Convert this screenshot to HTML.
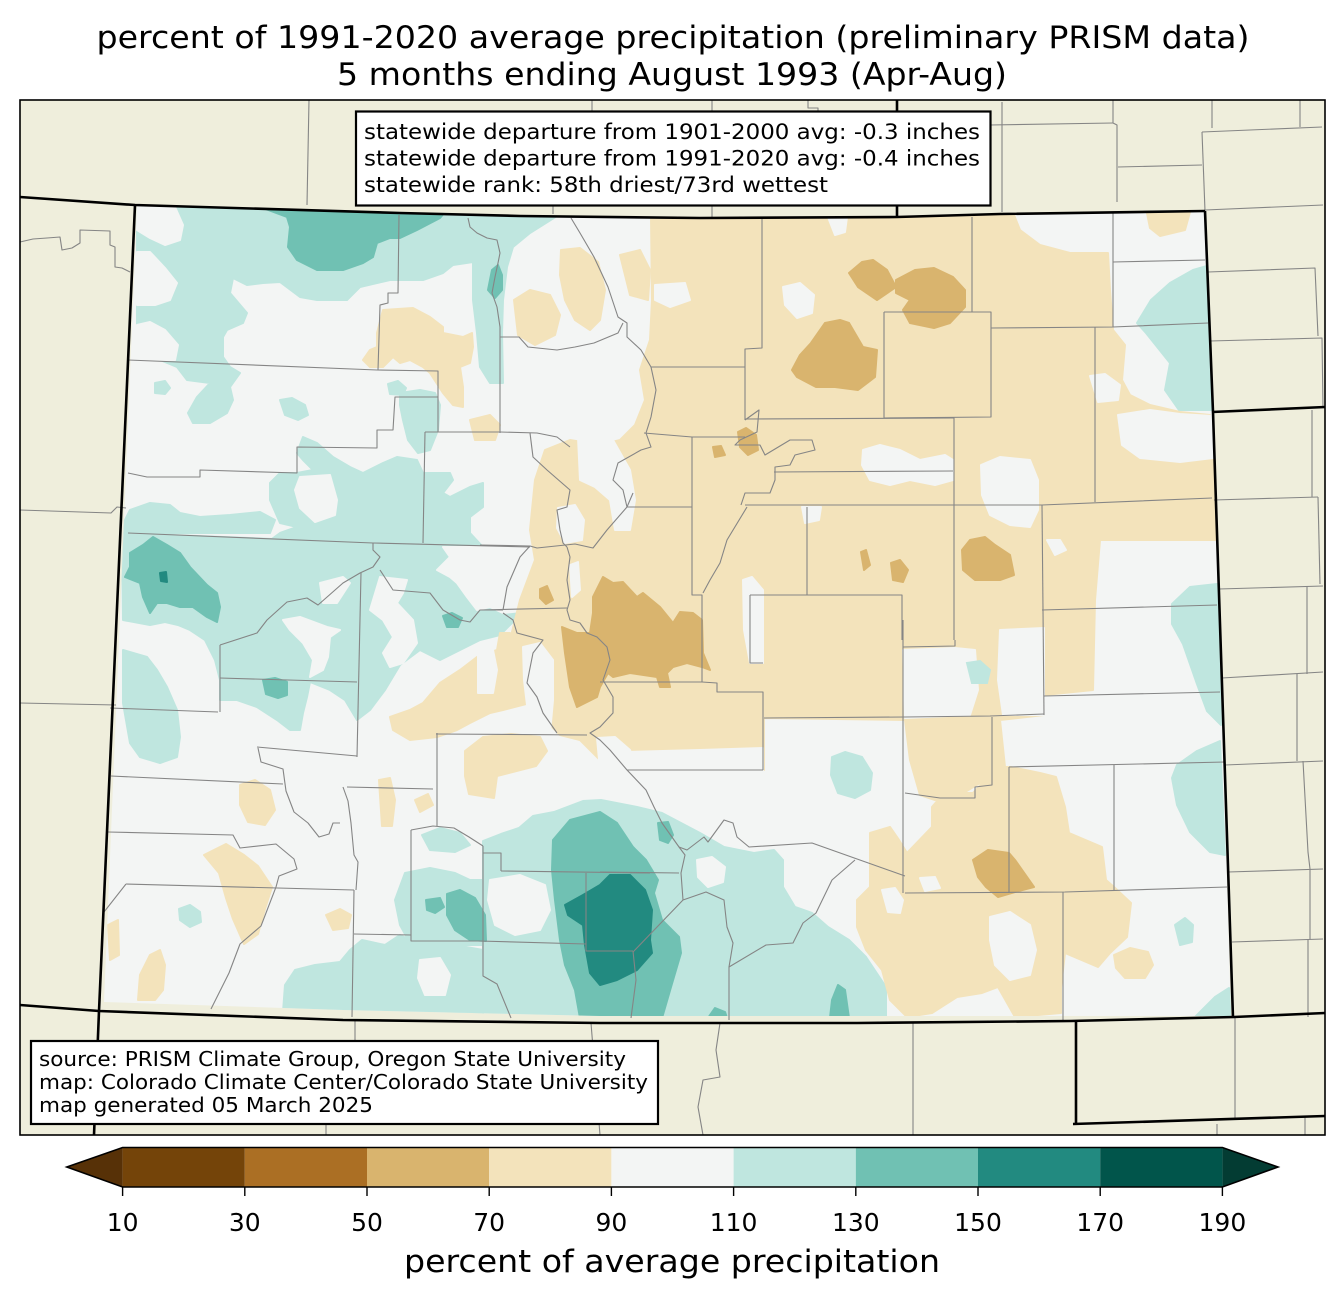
<!DOCTYPE html>
<html><head><meta charset="utf-8"><style>
html,body{margin:0;padding:0;background:#fff;}
svg{display:block;}
text{font-family:"DejaVu Sans","Liberation Sans",sans-serif;fill:#000;}
</style></head><body>
<svg width="1344" height="1299" viewBox="0 0 1344 1299" xmlns="http://www.w3.org/2000/svg">
<rect width="1344" height="1299" fill="#fff"/>
<rect x="20" y="100" width="1305" height="1035" fill="#efeedc"/>
<defs><clipPath id="co"><polygon points="137,206 400,213 520,216 700,218 897,217 1000,214 1205,211 1213,411 1231,1016 600,1016 343,1010 104,1002"/></clipPath></defs>
<g clip-path="url(#co)">
<rect x="90" y="200" width="1150" height="830" fill="#f3f5f4"/>
<!-- T1 -->
<g fill="#bfe6df" stroke="#bfe6df" stroke-width="2" stroke-linejoin="round">
<polygon points="137,207 557,216 530,233 513,247 507,267 503,300 502,333 503,383 490,383 480,367 477,333 473,300 473,262 453,265 443,273 423,280 390,280 360,287 347,300 317,300 300,297 280,282 263,283 247,285 233,278 230,293 247,313 243,323 227,330 223,337 223,357 230,367 240,373 230,387 233,400 227,413 210,423 193,423 188,413 197,397 210,383 187,380 177,367 160,360 137,360"/>
<polygon points="155,383 165,381 170,388 165,394 155,393"/>
<polygon points="280,400 292,398 305,405 308,415 298,420 285,415"/>
<polygon points="388,384 398,381 406,388 403,395 390,394"/>
<polygon points="400,393 420,390 435,393 440,405 438,430 430,450 418,453 408,440 403,420 400,405"/>
<polygon points="303,437 317,443 333,457 350,467 363,473 383,463 397,457 417,460 423,473 450,473 453,480 443,493 450,497 470,487 483,483 483,507 470,517 470,533 483,547 463,553 463,560 263,560 257,550 280,533 297,527 280,523 270,500 270,483 280,473 297,473 313,470 303,460 297,453"/>
<polygon points="130,510 150,503 170,505 180,513 200,517 230,515 260,512 275,520 270,533 122,533 125,520"/>
<polygon points="122,533 373,543 530,547 530,600 515,620 500,635 480,640 460,650 440,660 420,650 400,665 385,690 370,710 357,720 345,700 330,690 310,682 220,680 215,660 205,640 190,630 178,625 165,622 150,625 123,620"/>
<polygon points="123,650 147,657 157,670 167,687 177,710 180,737 177,757 160,763 140,757 130,743 123,703"/>
<polygon points="220,680 310,682 307,697 303,713 300,730 290,730 277,720 257,707 237,700 220,700"/>
<polygon points="179,909 190,905 200,912 201,922 190,927 180,920"/>
<polygon points="283,1012 285,985 295,970 315,965 340,962 350,950 362,940 385,945 400,935 420,945 440,940 455,945 483,950 483,1014"/>
<polygon points="405,873 430,868 455,873 470,880 483,880 483,945 411,945 400,925 395,900"/>
<polygon points="422,835 440,828 460,833 470,845 455,852 430,850"/>
<polygon points="483,841 501,834 519,828 533,816 554,812 583,801 601,800 637,807 662,813 700,833 724,847 754,853 774,850 783,860 783,887 795,907 812,913 828,927 849,940 866,957 886,987 886,1018 483,1018"/>
<polygon points="1137,323 1151,300 1170,283 1193,270 1207,266 1212,410 1179,410 1165,390 1170,363 1146,333"/>
<polygon points="1172,604 1190,587 1217,584 1221,725 1207,711 1197,684 1183,644 1172,624"/>
<polygon points="1177,765 1197,751 1220,741 1225,855 1210,852 1190,832 1177,805 1172,778"/>
<polygon points="1175,925 1185,918 1193,925 1192,942 1180,945"/>
<polygon points="1195,1017 1215,997 1229,988 1232,1017"/>
<polygon points="832,757 845,752 862,757 872,773 870,790 855,798 838,793 831,775"/>
</g>
<!-- white holes -->
<g fill="#f3f5f4" stroke="#f3f5f4" stroke-width="2" stroke-linejoin="round">
<polygon points="137,207 175,207 183,225 180,240 165,245 150,238 137,230"/>
<polygon points="137,252 150,252 165,268 177,283 170,300 155,305 137,305"/>
<polygon points="137,325 150,322 165,330 178,345 175,360 137,360"/>
<polygon points="300,477 330,475 337,500 335,515 315,522 300,508 295,490"/>
<polygon points="283,620 300,617 327,627 340,630 330,637 328,657 323,670 310,677 313,660 303,643 290,630"/>
<polygon points="320,583 343,577 350,583 337,603 323,603"/>
<polygon points="380,577 407,580 403,593 397,603 413,620 417,643 403,663 390,667 383,653 393,637 383,620 370,610"/>
<polygon points="443,547 530,547 530,610 503,613 490,607 477,610 467,597 457,583 450,577 437,570 450,557"/>
<polygon points="697,860 712,857 725,867 723,882 708,887 698,877"/>
<polygon points="490,880 520,875 545,885 550,910 540,930 515,935 495,925 488,900"/>
<polygon points="420,960 440,958 450,975 445,995 425,995 418,978"/>
</g>
<!-- B1 -->
<g fill="#f3e3bb" stroke="#f3e3bb" stroke-width="2" stroke-linejoin="round">
<polygon points="383,310 413,308 430,317 443,327 443,333 463,337 472,333 473,347 470,363 460,367 463,387 463,407 453,405 443,393 430,373 423,367 410,360 400,363 393,357 383,367 370,367 363,360 370,350 377,347 377,333"/>
<polygon points="561,250 580,248 598,262 605,290 600,320 590,330 575,320 565,300 560,275"/>
<polygon points="514,300 530,290 550,295 560,315 555,335 535,345 518,335"/>
<polygon points="470,420 490,415 500,425 495,440 475,440"/>
<polygon points="620,255 640,250 650,270 648,300 630,295"/>
<polygon points="651,217 1014,215 1020,230 1040,245 1070,253 1108,253 1110,290 1113,330 1125,345 1122,380 1130,395 1150,405 1180,412 1210,415 1213,450 1217,540 1100,540 1095,600 1093,690 1044,695 1044,715 1000,720 1005,767 985,780 960,795 935,800 920,795 910,760 905,720 764,718 764,770 720,765 660,770 625,770 600,760 580,740 560,735 545,720 548,700 540,680 520,660 510,640 520,600 535,560 530,530 535,480 545,450 570,440 600,445 620,440 635,425 645,400 640,370 650,340 652,300"/>
<polygon points="1147,213 1190,212 1185,230 1160,236 1150,228"/>
<polygon points="390,717 410,710 423,703 440,683 460,670 477,657 497,650 500,633 510,633 523,647 530,660 530,703 503,710 490,713 470,723 457,730 437,737 410,740 393,730"/>
<polygon points="465,751 483,737 511,734 540,737 547,751 536,766 497,776 494,798 469,794 465,776"/>
<polygon points="204,855 226,844 244,855 258,866 272,887 265,909 258,934 244,944 233,919 226,898 219,873"/>
<polygon points="140,975 150,955 160,950 165,965 163,990 155,1000 138,1000"/>
<polygon points="326,915 340,909 351,915 348,928 333,930"/>
<polygon points="108,925 118,920 119,955 110,960"/>
<polygon points="240,785 255,780 270,790 275,810 265,825 248,822 240,805"/>
<polygon points="379,780 390,778 395,800 392,826 382,826"/>
<polygon points="415,800 428,794 433,805 420,812"/>
<polygon points="857,900 870,887 870,833 890,827 899,840 907,853 932,827 932,807 944,793 973,793 998,767 1011,767 1040,773 1056,777 1065,807 1069,833 1102,847 1106,880 1114,887 1131,903 1127,937 1110,953 1098,967 1065,953 1061,987 1061,1013 1015,1017 998,987 982,993 957,997 932,1013 907,1017 890,1000 882,970 866,950 857,927"/>
<polygon points="1114,955 1130,948 1148,952 1153,965 1145,978 1125,978 1116,968"/>
</g>
<!-- white holes in B1 -->
<g fill="#f3f5f4" stroke="#f3f5f4" stroke-width="2" stroke-linejoin="round">
<polygon points="783,287 800,283 814,295 812,313 797,318 785,305"/>
<polygon points="828,217 847,217 845,232 835,235"/>
<polygon points="655,285 685,283 690,300 670,307 655,300"/>
<polygon points="863,450 880,445 900,450 920,460 945,455 953,460 953,480 935,485 910,480 890,485 870,480 862,465"/>
<polygon points="981,465 1000,457 1030,460 1038,480 1038,510 1030,527 1010,525 990,515 982,495"/>
<polygon points="1090,376 1105,374 1120,385 1118,400 1098,402"/>
<polygon points="1118,415 1150,410 1180,414 1212,416 1213,458 1180,462 1140,458 1122,445"/>
<polygon points="1047,540 1060,540 1066,550 1055,555"/>
<polygon points="903,650 955,648 975,650 978,690 970,715 905,718"/>
<polygon points="1000,630 1044,628 1044,715 1003,715 998,680"/>
<polygon points="743,580 752,577 763,590 763,663 750,663 744,630"/>
<polygon points="802,507 821,507 819,520 805,523"/>
<polygon points="578,437 613,440 630,470 635,500 630,530 615,530 610,500 595,487 580,480"/>
<polygon points="558,508 575,505 584,520 582,540 565,543 557,528"/>
<polygon points="570,565 578,562 580,590 572,597"/>
<polygon points="523,647 540,643 553,660 553,700 550,733 535,733 527,705 524,680"/>
<polygon points="478,647 493,650 497,670 493,693 478,693"/>
<polygon points="597,738 615,737 630,750 637,770 600,770"/>
<polygon points="627,752 700,750 763,748 763,770 627,770"/>
<polygon points="600,742 620,745 625,768 600,768"/>
<polygon points="882,890 895,888 903,900 900,913 888,912"/>
<polygon points="990,917 1010,912 1030,925 1036,950 1030,975 1010,980 995,965 990,940"/>
<polygon points="920,878 935,877 940,888 925,891"/>
</g>
<g fill="#bfe6df" stroke="#bfe6df" stroke-width="2"><polygon points="967,663 980,661 990,670 987,683 972,683"/></g>
<!-- B2 -->
<g fill="#d9b46e" stroke="#d9b46e" stroke-width="2" stroke-linejoin="round">
<polygon points="849,273 862,262 873,260 887,270 896,287 877,300 858,287"/>
<polygon points="896,280 915,270 934,268 953,277 965,290 965,307 950,323 934,328 910,323 903,310 910,300 896,293"/>
<polygon points="825,323 840,320 849,323 863,347 877,350 875,377 858,390 835,387 816,387 797,377 792,370 800,355 811,343"/>
<polygon points="738,432 746,428 756,435 758,450 748,455 740,447"/>
<polygon points="713,447 721,446 725,455 715,457"/>
<polygon points="962,550 970,540 985,537 995,545 1010,555 1014,575 1000,580 975,580 963,570"/>
<polygon points="861,552 866,550 870,565 864,570"/>
<polygon points="891,563 900,560 908,570 903,582 893,580"/>
<polygon points="562,627 577,633 590,633 593,613 593,597 603,577 613,583 623,582 637,597 643,593 660,607 673,623 680,612 693,613 702,620 703,653 710,670 702,667 687,663 673,667 667,673 670,687 660,687 657,677 630,673 613,677 608,673 600,687 597,697 577,707 570,687 565,653"/>
<polygon points="540,589 547,586 553,600 546,604 540,598"/>
<polygon points="973,860 988,850 1009,853 1015,860 1034,887 1015,892 998,897 986,887 978,877"/>
</g>
<!-- T2 -->
<g fill="#70c1b3" stroke="#70c1b3" stroke-width="2" stroke-linejoin="round">
<polygon points="263,208 445,212 440,218 417,230 400,238 390,238 377,243 373,257 363,263 343,270 317,270 297,260 288,247 290,227 287,217"/>
<polygon points="488,290 492,270 498,265 502,275 502,290 495,298"/>
<polygon points="130,553 143,545 153,537 167,545 180,553 190,567 207,585 217,593 220,607 217,622 207,617 193,607 180,607 167,603 157,603 150,613 143,597 140,583 125,577 130,567"/>
<polygon points="263,680 275,678 287,682 287,695 278,698 266,694"/>
<polygon points="443,616 452,613 462,618 458,627 447,627"/>
<polygon points="426,900 440,898 444,907 435,913 427,910"/>
<polygon points="447,894 460,890 475,898 485,915 486,941 470,940 455,930 447,915"/>
<polygon points="553,840 570,820 600,812 617,823 633,847 646,860 658,880 654,893 662,920 679,937 681,953 671,987 662,1018 580,1018 575,990 565,965 560,940 555,900 552,870"/>
<polygon points="658,823 668,822 673,835 668,843 660,840"/>
<polygon points="832,1000 838,985 845,990 849,1018 830,1018"/>
<polygon points="708,1018 715,1008 725,1012 727,1018"/>
</g>
<!-- T3 -->
<g fill="#228a80" stroke="#228a80" stroke-width="2" stroke-linejoin="round">
<polygon points="565,905 583,895 600,885 610,875 630,875 645,890 652,910 650,940 652,953 637,970 617,980 600,985 590,973 585,945 583,925 568,915"/>
<polygon points="160,573 166,572 167,582 161,581"/>
</g>
</g>
<!-- county lines -->
<g fill="none" stroke="#858585" stroke-width="1.1" stroke-linejoin="round">
<polyline points="399,215 398,293 388,293 388,303 380,305 378,370"/>
<polyline points="128,360 377,370 438,371 438,432"/>
<polyline points="128,473 147,477 200,477 200,470 297,473 297,447 377,448 377,430 393,430 395,397 438,397"/>
<polyline points="468,218 470,227 477,233 487,238 497,240 500,253 498,263 495,277 492,293 497,307 500,327 500,347 500,433"/>
<polyline points="425,432 500,432 537,433 557,437 570,447"/>
<polyline points="500,337 519,337 528,347 557,350 575,347 594,343 618,333 623,323"/>
<polyline points="425,432 423,543"/>
<polyline points="128,533 373,543 530,547"/>
<polyline points="530,433 533,457 547,470 570,490 567,507 557,510 560,530 563,543 567,547"/>
<polyline points="571,218 580,233 594,257 608,287 618,317 627,323 627,337 641,350 651,367 656,390 651,417 646,433 651,447 641,450 618,463 613,480 623,490 627,507 692,507"/>
<polyline points="480,545 530,546 537,548 575,544 593,548 607,530 627,507 633,493"/>
<polyline points="651,367 745,367"/>
<polyline points="762,218 762,348 745,349 745,420"/>
<polyline points="972,217 972,312"/>
<polyline points="884,312 991,312 991,417 884,418 884,312"/>
<polyline points="991,328 1113,327 1208,323"/>
<polyline points="1113,213 1113,327"/>
<polyline points="1113,262 1205,260"/>
<polyline points="1095,327 1095,502"/>
<polyline points="745,419 953,418 954,418 954,640"/>
<polyline points="745,505 1042,505 1212,498"/>
<polyline points="1042,505 1044,715"/>
<polyline points="1042,610 1217,605"/>
<polyline points="774,472 953,471"/>
<polyline points="644,433 692,437 745,437"/>
<polyline points="692,437 692,595 702,595 702,682"/>
<polyline points="750,595 902,595 902,640"/>
<polyline points="807,507 807,595"/>
<polyline points="745,420 759,410 757,432 740,440 735,445 760,445 765,455 790,440 812,440 815,450 795,455 790,465 775,467 775,480 770,493 745,493 741,505"/>
<polyline points="747,507 727,540 720,563 710,580 703,593"/>
<polyline points="220,645 257,633 267,620 287,602 307,598 318,605 343,583 360,573 373,567 380,557 373,550 373,543"/>
<polyline points="220,645 220,712"/>
<polyline points="220,678 357,682"/>
<polyline points="361,573 357,757"/>
<polyline points="110,708 218,712"/>
<polyline points="380,570 393,590 430,593 443,610 460,620 470,622 480,610 503,610"/>
<polyline points="503,610 507,587 520,557 530,546"/>
<polyline points="503,613 513,620 517,633 543,640 533,653 527,683 537,697 543,713 557,733"/>
<polyline points="567,547 570,557 567,580 570,600 567,610 570,620 580,623 587,633 597,637 607,647 610,660 603,680 613,697 613,713 600,727 590,733 600,740 610,750 627,770 646,790 654,807 662,823 679,847 687,850 704,837 708,842 724,820 733,823 737,837 749,847 812,843 905,876"/>
<polyline points="480,610 567,608"/>
<polyline points="600,682 702,682 717,683 717,692 763,692 763,770"/>
<polyline points="627,770 763,770"/>
<polyline points="750,595 750,663 763,663"/>
<polyline points="764,718 905,717 990,716 1044,714"/>
<polyline points="903,620 903,893"/>
<polyline points="903,647 955,646 955,640"/>
<polyline points="1044,696 1220,692"/>
<polyline points="992,717 992,785 975,787 975,798 940,798 905,793"/>
<polyline points="1009,767 1009,893"/>
<polyline points="1009,767 1225,762"/>
<polyline points="1114,765 1114,890"/>
<polyline points="905,893 1065,892 1227,887"/>
<polyline points="1063,892 1063,1020"/>
<polyline points="586,873 586,951 633,951"/>
<polyline points="633,952 683,900 706,892 724,900 727,927 733,943 729,967 729,1020"/>
<polyline points="729,967 766,945 793,943 803,923 816,913 832,880 855,860"/>
<polyline points="600,872 679,873"/>
<polyline points="679,847 685,855 681,873 683,900"/>
<polyline points="633,951 636,980 631,1018"/>
<polyline points="501,871 650,873"/>
<polyline points="483,853 501,853 501,871"/>
<polyline points="483,846 483,976 497,984 511,1018"/>
<polyline points="411,830 411,941 479,941 586,944"/>
<polyline points="354,934 411,935"/>
<polyline points="354,890 352,1017"/>
<polyline points="126,884 354,890"/>
<polyline points="126,884 104,912"/>
<polyline points="276,887 261,926 240,944 229,973 211,1009"/>
<polyline points="108,832 233,835 240,848 276,844 294,859 297,869 279,876 276,887"/>
<polyline points="111,776 283,784"/>
<polyline points="258,748 261,762 283,769 286,791 294,812 308,823 319,837 329,834 333,823 340,823"/>
<polyline points="257,747 357,756"/>
<polyline points="343,787 348,801 351,823 354,855 358,862 356,890"/>
<polyline points="347,787 433,789"/>
<polyline points="411,830 433,826 454,828 469,837 483,846"/>
<polyline points="437,733 437,826"/>
<polyline points="436,734 587,735"/>
<!-- outside states -->
<polyline points="309,100 307,205"/>
<polyline points="20,242 33,239 47,238 60,237 62,250 72,248 80,243 80,230 110,231 110,245 115,247 115,267 122,268 130,272"/>
<polyline points="20,510 111,513 117,507 126,508"/>
<polyline points="20,703 116,705"/>
<polyline points="553,206 553,214"/>
<polyline points="712,206 712,217"/>
<polyline points="592,100 592,111"/>
<polyline points="712,100 712,111"/>
<polyline points="808,100 808,108 818,108 818,111"/>
<polyline points="1002,102 1002,212"/>
<polyline points="990,125 1113,123"/>
<polyline points="1113,100 1113,123 1117,125 1117,202"/>
<polyline points="1118,167 1202,165"/>
<polyline points="1202,132 1322,127"/>
<polyline points="1212,100 1212,128"/>
<polyline points="1300,100 1300,127"/>
<polyline points="1202,132 1205,211"/>
<polyline points="1205,210 1323,205"/>
<polyline points="1208,272 1315,268 1318,336"/>
<polyline points="1210,341 1322,338 1323,408"/>
<polyline points="1214,500 1318,497"/>
<polyline points="1312,410 1312,497"/>
<polyline points="1318,497 1320,584"/>
<polyline points="1219,589 1323,586"/>
<polyline points="1307,586 1307,674"/>
<polyline points="1222,678 1323,672"/>
<polyline points="1297,674 1297,761"/>
<polyline points="1225,765 1323,761"/>
<polyline points="1303,761 1308,852 1310,869"/>
<polyline points="1228,872 1323,869"/>
<polyline points="1310,869 1310,939"/>
<polyline points="1232,942 1323,939"/>
<polyline points="1308,939 1308,1017"/>
<polyline points="355,1021 355,1041"/>
<polyline points="326,1124 326,1135"/>
<polyline points="591,1023 600,1135"/>
<polyline points="720,1023 716,1050 720,1077 703,1080 698,1107 703,1135"/>
<polyline points="913,1023 913,1135"/>
<polyline points="1235,1018 1235,1120"/>
<polyline points="1217,1124 1217,1135"/>
<polyline points="1305,1117 1305,1135"/>
</g>
<!-- state borders -->
<g fill="none" stroke="#000" stroke-width="2.6" stroke-linejoin="round">
<polyline points="20,197 135,205 400,213 520,216 700,218 897,217 1000,214 1205,211"/>
<polyline points="897,100 897,217"/>
<polyline points="1205,211 1213,412 1233,1018"/>
<polyline points="1212,412 1325,407"/>
<polyline points="20,1005 99,1011 343,1020 600,1023 857,1023 1071,1021 1234,1017 1325,1013"/>
<polyline points="135,205 99,1011 94,1135"/>
<polyline points="1076,1021 1076,1124"/>
<polyline points="1073,1124 1325,1116"/>
</g>
<rect x="20" y="100" width="1305" height="1035" fill="none" stroke="#000" stroke-width="1.6"/>
<!-- text boxes -->
<rect x="356" y="111.5" width="634.5" height="94" fill="#fff" stroke="#000" stroke-width="2.2"/>
<text x="364" y="139" font-size="21.5" textLength="616" lengthAdjust="spacingAndGlyphs">statewide departure from 1901-2000 avg: -0.3 inches</text>
<text x="364" y="165.5" font-size="21.5" textLength="616" lengthAdjust="spacingAndGlyphs">statewide departure from 1991-2020 avg: -0.4 inches</text>
<text x="364" y="192" font-size="21.5" textLength="464" lengthAdjust="spacingAndGlyphs">statewide rank: 58th driest/73rd wettest</text>
<rect x="31" y="1041" width="627" height="83" fill="#fff" stroke="#000" stroke-width="2.2"/>
<text x="39" y="1066" font-size="20" textLength="587" lengthAdjust="spacingAndGlyphs">source: PRISM Climate Group, Oregon State University</text>
<text x="39" y="1089" font-size="20" textLength="609" lengthAdjust="spacingAndGlyphs">map: Colorado Climate Center/Colorado State University</text>
<text x="39" y="1112" font-size="20" textLength="334" lengthAdjust="spacingAndGlyphs">map generated 05 March 2025</text>
<!-- title -->
<text x="96.5" y="48" font-size="31" textLength="1153" lengthAdjust="spacingAndGlyphs">percent of 1991-2020 average precipitation (preliminary PRISM data)</text>
<text x="337" y="85" font-size="31" textLength="670" lengthAdjust="spacingAndGlyphs">5 months ending August 1993 (Apr-Aug)</text>
<!-- colorbar -->
<polygon points="122.6,1147.5 66.8,1167 122.6,1187" fill="#573107"/>
<polygon points="1222.4,1147.5 1278,1167 1222.4,1187" fill="#033c33"/>
<rect x="122.6" y="1147.5" width="122.2" height="39.5" fill="#744409"/>
<rect x="244.8" y="1147.5" width="122.2" height="39.5" fill="#ab6f24"/>
<rect x="367" y="1147.5" width="122.2" height="39.5" fill="#d9b46e"/>
<rect x="489.2" y="1147.5" width="122.2" height="39.5" fill="#f3e3bb"/>
<rect x="611.4" y="1147.5" width="122.2" height="39.5" fill="#f3f5f4"/>
<rect x="733.6" y="1147.5" width="122.2" height="39.5" fill="#bfe6df"/>
<rect x="855.8" y="1147.5" width="122.2" height="39.5" fill="#70c1b3"/>
<rect x="978" y="1147.5" width="122.2" height="39.5" fill="#228a80"/>
<rect x="1100.2" y="1147.5" width="122.2" height="39.5" fill="#01554b"/>
<polygon points="66.8,1167 122.6,1147.5 1222.4,1147.5 1278,1167 1222.4,1187 122.6,1187" fill="none" stroke="#000" stroke-width="1.6" stroke-linejoin="miter"/>
<g stroke="#000" stroke-width="1.4">
<line x1="122.6" y1="1187" x2="122.6" y2="1196"/>
<line x1="244.8" y1="1187" x2="244.8" y2="1196"/>
<line x1="367" y1="1187" x2="367" y2="1196"/>
<line x1="489.2" y1="1187" x2="489.2" y2="1196"/>
<line x1="611.4" y1="1187" x2="611.4" y2="1196"/>
<line x1="733.6" y1="1187" x2="733.6" y2="1196"/>
<line x1="855.8" y1="1187" x2="855.8" y2="1196"/>
<line x1="978" y1="1187" x2="978" y2="1196"/>
<line x1="1100.2" y1="1187" x2="1100.2" y2="1196"/>
<line x1="1222.4" y1="1187" x2="1222.4" y2="1196"/>
</g>
<g font-size="25" text-anchor="middle">
<text x="122.6" y="1231">10</text>
<text x="244.8" y="1231">30</text>
<text x="367" y="1231">50</text>
<text x="489.2" y="1231">70</text>
<text x="611.4" y="1231">90</text>
<text x="733.6" y="1231">110</text>
<text x="855.8" y="1231">130</text>
<text x="978" y="1231">150</text>
<text x="1100.2" y="1231">170</text>
<text x="1222.4" y="1231">190</text>
</g>
<text x="404" y="1272" font-size="31" textLength="536" lengthAdjust="spacingAndGlyphs">percent of average precipitation</text>
</svg>
</body></html>
